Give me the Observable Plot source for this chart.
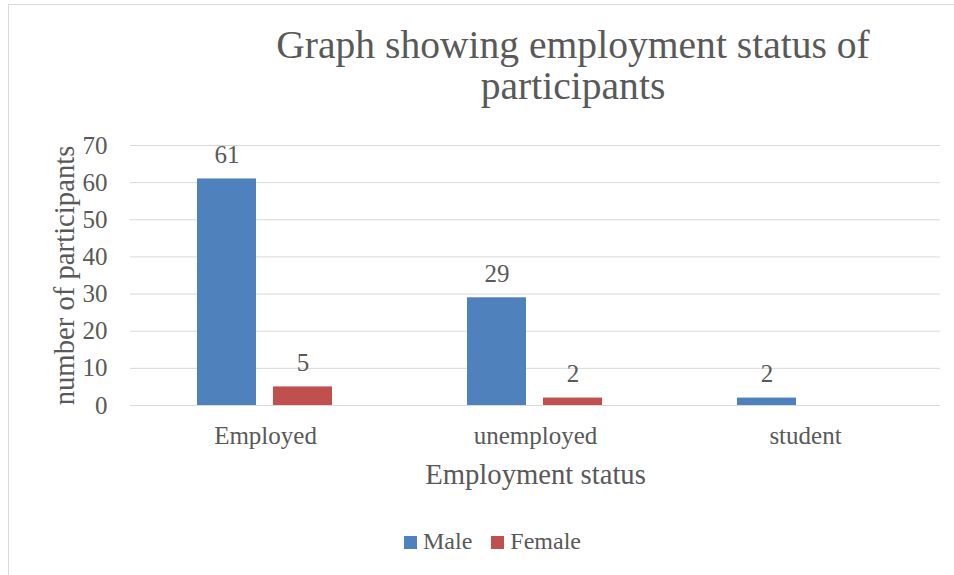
<!DOCTYPE html>
<html>
<head>
<meta charset="utf-8">
<script src="https://cdn.jsdelivr.net/npm/d3@7"></script>
<script src="https://cdn.jsdelivr.net/npm/@observablehq/plot@0.6"></script>
<style>
  body { margin: 0; background: #fff; }
  #wrap { position: relative; width: 954px; height: 575px; overflow: hidden; font-family: "Liberation Serif", serif; color: #595959; background: #fff; }
  #frame { position: absolute; left: 8px; top: 4px; width: 1300px; height: 900px; border-left: 1px solid #d9d9d9; border-top: 1px solid #d9d9d9; }
  #title { position: absolute; left: 0; top: 25px; width: 1146px; text-align: center; font-size: 39.6px; line-height: 41px; margin: 0; font-weight: normal; }
  #chart { position: absolute; left: 0; top: 115px; }
  #legend { position: absolute; left: 404px; top: 529px; display: flex; font-size: 24px; line-height: 24px; }
  .item { display: flex; margin-right: 19px; }
  .sw { width: 13px; height: 13px; margin-top: 7px; margin-right: 6px; }
  #chart g[aria-label="y-axis label"] text, #chart g[aria-label="fx-axis label"] text { font-size: 28.7px; }
</style>
</head>
<body>
<div id="wrap">
  <div id="frame"></div>
  <div id="title">Graph showing employment status of<br>participants</div>
  <div id="chart"></div>
  <div id="legend"></div>
</div>
<script>
const categories = ["Employed", "unemployed", "student"];
const series = ["Male", "Female"];
const maleValues = [61, 29, 2];
const femaleValues = [5, 2, null];
const colors = ["#4f81bd", "#c0504d"];
const yTicks = [0, 10, 20, 30, 40, 50, 60, 70];
const xTitle = "Employment status";
const yTitle = "number of participants";

const data = [];
categories.forEach((c, i) => {
  if (maleValues[i] != null) data.push({status: c, sex: "Male", value: maleValues[i]});
  if (femaleValues[i] != null) data.push({status: c, sex: "Female", value: femaleValues[i]});
});

const chart = Plot.plot({
  width: 954,
  height: 380,
  marginTop: 30,
  marginBottom: 90,
  marginLeft: 130,
  marginRight: 14,
  style: {fontFamily: "Liberation Serif", fontSize: "25px", color: "#595959", background: "transparent", overflow: "visible"},
  fx: {domain: categories, paddingInner: 0, paddingOuter: 0, label: xTitle},
  x: {domain: series, paddingInner: 0.2208, paddingOuter: 0.8637, axis: null},
  y: {domain: [0, 70], ticks: yTicks, label: yTitle},
  color: {domain: series, range: colors},
  marks: [
    Plot.ruleY(yTicks, {stroke: "#d9d9d9", strokeWidth: 1}),
    Plot.barY(data, {fx: "status", x: "sex", y: "value", fill: "sex"}),
    Plot.text(data, {fx: "status", x: "sex", y: "value", text: "value", lineAnchor: "bottom", dy: -16, fill: "#595959", fontSize: 25}),
    Plot.axisY({ticks: yTicks, tickSize: 0, tickPadding: 23, label: yTitle, labelAnchor: "center", labelArrow: "none", labelOffset: 77, fill: "#595959"}),
    Plot.axisFx({anchor: "bottom", tickSize: 0, tickPadding: 21, label: xTitle, labelAnchor: "center", labelArrow: "none", labelOffset: 78, fill: "#595959"})
  ]
});
document.getElementById("chart").appendChild(chart);

const colorScale = chart.scale("color");
const legend = document.getElementById("legend");
series.forEach((s, i) => {
  const item = document.createElement("div");
  item.className = "item";
  const sw = document.createElement("div");
  sw.className = "sw";
  sw.style.background = colorScale.range[i];
  const label = document.createElement("span");
  label.textContent = s;
  item.appendChild(sw);
  item.appendChild(label);
  legend.appendChild(item);
});
</script>
</body>
</html>
